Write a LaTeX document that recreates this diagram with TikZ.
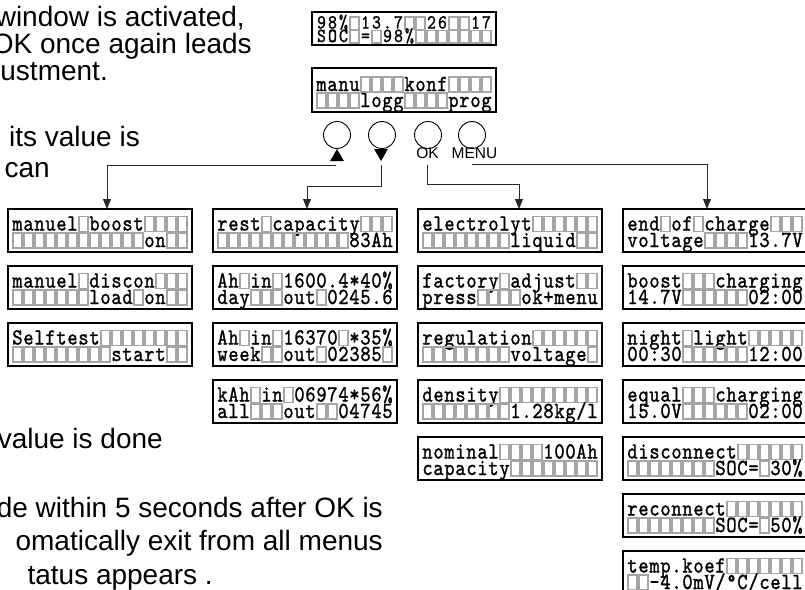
\documentclass[tikz,border=0pt]{standalone}
\usepackage{fontspec}
\setmainfont{Liberation Sans}
\newfontfamily\lcdfont{lmmono10-regular}[Extension=.otf,FakeStretch=0.85,FakeBold=1.2]
\usetikzlibrary{arrows.meta,shapes.geometric}
\definecolor{cellgray}{RGB}{165,165,165}
\definecolor{linegray}{RGB}{40,40,40}
\tikzset{
  lcdbox/.style={draw=black, line width=1.1pt, anchor=north west, inner sep=0pt, outer sep=0pt, minimum width=184pt},
  emptycell/.style={draw=cellgray, line width=1.1pt},
  lcdchar/.style={anchor=base, inner sep=0pt, font=\lcdfont\fontsize{\lcdfs}{\lcdfs}\selectfont},
  btn/.style={draw, circle, line width=0.9pt, minimum size=27pt, inner sep=0pt},
  tri/.style={regular polygon, regular polygon sides=3, fill=black, inner sep=0pt, minimum size=16pt},
  lbl/.style={font=\fontsize{15.5}{15.5}\selectfont, inner sep=0pt, anchor=base},
  body/.style={font=\fontsize{28}{28}\selectfont, inner sep=0pt, anchor=base east},
  conn/.style={draw=linegray, line width=0.9pt, -{Triangle[width=8pt,length=10pt]}},
}
\newcount\lcdk
\def\lcdempty{|}
\def\lcdset#1#2#3#4#5{\def\lcdH{#1}\def\lcdBa{#2}\def\lcdBb{#3}\def\lcdCH{#4}\def\lcdfs{#5}}
\newcommand\lcdcell[1]{%
  \def\lcdtmp{#1}%
  \ifx\lcdtmp\lcdempty
    \draw[emptycell] ({\lcdX+5+11*\the\lcdk},{\lcdbase+1}) rectangle ++(9,-\lcdCH);
  \else
    \node[lcdchar] (\lcdname c\the\lcdk) at ({\lcdX+9.5+11*\the\lcdk},{\lcdbase}) {#1};
  \fi
  \global\advance\lcdk by 1\relax}
\def\lcdloop#1{%
  \ifx#1\relax
  \else
    \lcdcell{#1}%
    \expandafter\lcdloop
  \fi}
\newcommand\lcd[5]{%
  \node[lcdbox, minimum height=\lcdH pt] (#1) at (#2,#3) {};
  \def\lcdX{#2}%
  \def\lcdbase{#3+\lcdBa}%
  \def\lcdname{#1r1}%
  \global\lcdk=0 \lcdloop#4\relax
  \def\lcdbase{#3+\lcdBb}%
  \def\lcdname{#1r2}%
  \global\lcdk=0 \lcdloop#5\relax
}
\begin{document}
\begin{tikzpicture}[x=1pt,y=-1pt]
\useasboundingbox (0,0) rectangle (805,589);
% body text fragments
\node[body] (t1) at (245,27) {window is activated,};
\node[body] (t2) at (252,53) {OK once again leads};
\node[body] (t3) at (108,80) {ustment.};
\node[body] (t4) at (140,146) {its value is};
\node[body] (t5) at (50,177) {can};
\node[body] (t6) at (163,448) {value is done};
\node[body] (t7) at (383,517) {de within 5 seconds after OK is};
\node[body] (t8) at (383,550) {omatically exit from all menus};
\node[body] (t9) at (213,584) {tatus appears .};
% top displays
\lcdset{33}{16.5}{30}{12.5}{20}
\lcd{disp1}{312}{12}{98\%|13.7||26||17}{SOC|=|98\%|||||||}
\lcdset{44}{23}{39}{15}{23}
\lcd{disp2}{312}{68}{manu||||konf||||}{||||logg||||prog}
% buttons
\node[btn] (b1) at (337,135) {};
\node[btn] (b2) at (382,135) {};
\node[btn] (b3) at (428,135) {};
\node[btn] (b4) at (472,135) {};
\node[tri] (up) at (337,157) {};
\node[tri, shape border rotate=180] (dn) at (381,153) {};
\node[lbl] (ok) at (427.5,158) {OK};
\node[lbl] (menu) at (474.5,158) {MENU};
% menu displays
\lcdset{43}{21.5}{38}{15}{23}
\lcd{c1a}{8}{209}{manuel|boost||||}{||||||||||||on||}
\lcd{c1b}{8}{266}{manuel|discon|||}{|||||||load|on||}
\lcd{c1c}{8}{323}{Selftest||||||||}{|||||||||start||}
\lcd{c2a}{213}{209}{rest|capacity|||}{||||||||||||83Ah}
\lcd{c2b}{213}{266}{Ah|in|1600.4*40\%}{day|||out|0245.6}
\lcd{c2c}{213}{323}{Ah|in|16370|*35\%}{week||out|02385|}
\lcd{c2d}{213}{380}{kAh|in|06974*56\%}{all|||out||04745}
\lcd{c3a}{418}{209}{electrolyt||||||}{||||||||liquid||}
\lcd{c3b}{418}{266}{factory|adjust||}{press||||ok+menu}
\lcd{c3c}{418}{323}{regulation||||||}{||||||||voltage|}
\lcd{c3d}{418}{380}{density|||||||||}{||||||||1.28kg/l}
\lcd{c3e}{418}{437}{nominal||||100Ah}{capacity||||||||}
\lcd{c4a}{623}{209}{end|of|charge|||}{voltage||||13.7V}
\lcd{c4b}{623}{266}{boost|||charging}{14.7V||||||02:00}
\lcd{c4c}{623}{323}{night|light|||||}{00:30||||||12:00}
\lcd{c4d}{623}{380}{equal|||charging}{15.0V||||||02:00}
\lcd{c4e}{623}{437}{disconnect||||||}{||||||||SOC=|30\%}
\lcd{c4f}{623}{494}{reconnect|||||||}{||||||||SOC=|50\%}
\lcd{c4g}{623}{551}{temp.koef|||||||}{||-4.0mV/°C/cell}
% connectors
\coordinate (upend) at (336,165);
\coordinate (dnend) at (381,165);
\coordinate (okend) at (427,165);
\coordinate (menuend) at (472,164);
\draw[conn] (upend) -| ([xshift=7pt]c1a.north);
\draw[conn] (dnend) -- ++(0,21) -| ([xshift=2pt]c2a.north);
\draw[conn] (okend) -- ++(0,19) -| ([xshift=9pt]c3a.north);
\draw[conn] (menuend) -| ([xshift=-8pt]c4a.north);
\end{tikzpicture}
\end{document}
